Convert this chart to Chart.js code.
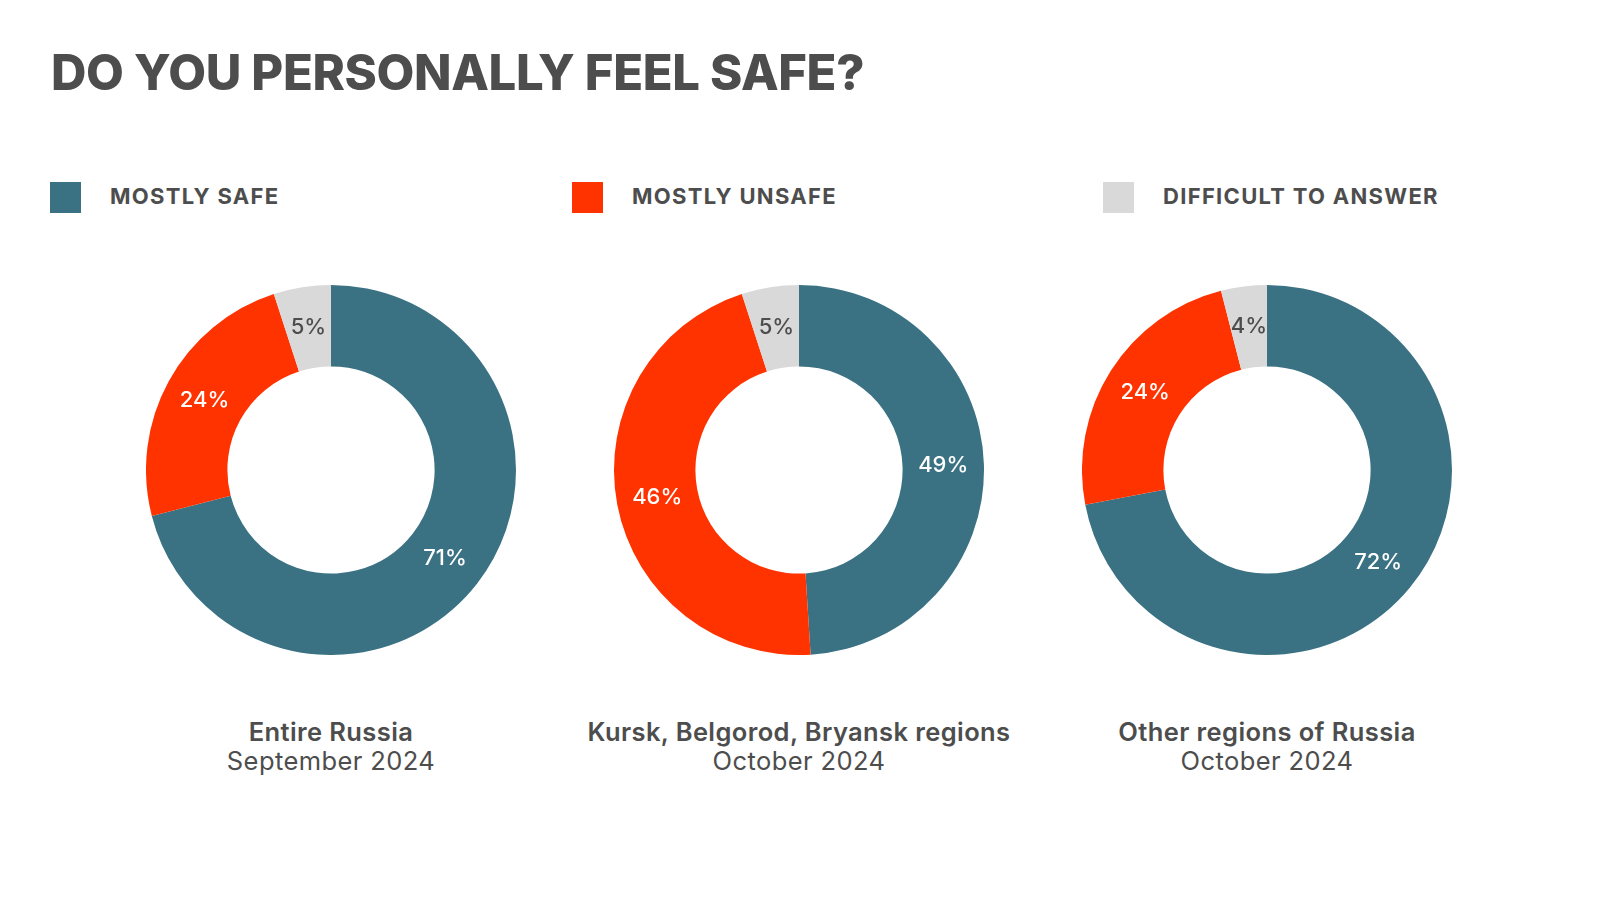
<!DOCTYPE html>
<html>
<head>
<meta charset="utf-8">
<script src="https://cdn.jsdelivr.net/npm/chart.js@4.4.1/dist/chart.umd.min.js"></script>
<style>
    html, body { margin: 0; padding: 0; background: #fff; }
    body { width: 1600px; height: 900px; position: relative; overflow: hidden; font-family: Inter, "Noto Sans", sans-serif; color: #4d4d4d; }
    h1 { position: absolute; left: 51px; top: 40px; margin: 0; font-size: 49px; font-weight: 800; letter-spacing: -0.35px; line-height: 66px; }
    .legend-item { position: absolute; top: 182px; height: 31px; display: flex; align-items: center; }
    .legend-item .box { width: 31px; height: 31px; margin-right: 29px; }
    .legend-item span { font-size: 22px; font-weight: 700; letter-spacing: 1.3px; position: relative; top: -2px; }
    .donut { position: absolute; top: 285px; width: 370px; height: 370px; }
    .caption { position: absolute; top: 717px; width: 600px; text-align: center; font-size: 25.5px; line-height: 29px; letter-spacing: 0.4px; }
    .caption b { font-weight: 600; }
    .caption div { font-weight: 400; }
</style>
</head>
<body>
<h1>DO YOU PERSONALLY FEEL SAFE?</h1>
<div id="legend"></div>
<div id="charts"></div>

<script>
/* ===============================
   DATA
================================ */
const categories = ["MOSTLY SAFE", "MOSTLY UNSAFE", "DIFFICULT TO ANSWER"];
const colors = ["#3a7284", "#ff3300", "#d9d9d9"];

const regions = ["Entire Russia", "Kursk, Belgorod, Bryansk regions", "Other regions of Russia"];
const periods = ["September 2024", "October 2024", "October 2024"];

const entireRussia = [71, 24, 5];
const borderRegions = [49, 46, 5];
const otherRegions = [72, 24, 4];
const seriesList = [entireRussia, borderRegions, otherRegions];

/* ===============================
   LEGEND
================================ */
const legendLeft = [50, 572, 1103];
const legendEl = document.getElementById("legend");
categories.forEach((name, i) => {
    const item = document.createElement("div");
    item.className = "legend-item";
    item.style.left = legendLeft[i] + "px";
    item.innerHTML = '<div class="box" style="background:' + colors[i] + '"></div><span>' + name + '</span>';
    legendEl.appendChild(item);
});

/* ===============================
   VALUE LABELS ON SEGMENTS
================================ */
const segmentLabels = {
    id: "segmentLabels",
    afterDatasetsDraw(chart) {
        const ctx = chart.ctx;
        const meta = chart.getDatasetMeta(0);
        const values = chart.data.datasets[0].data;
        ctx.save();
        ctx.font = "500 22px Inter, 'Noto Sans', sans-serif";
        ctx.textAlign = "center";
        ctx.textBaseline = "middle";
        meta.data.forEach((arc, i) => {
            const pos = arc.tooltipPosition();
            ctx.fillStyle = i === 2 ? "#4d4d4d" : "#ffffff";
            ctx.fillText(values[i] + "%", pos.x, pos.y);
        });
        ctx.restore();
    }
};

/* ===============================
   DONUTS
================================ */
const centersX = [331, 799, 1267];
const chartsEl = document.getElementById("charts");

seriesList.forEach((values, i) => {
    const wrap = document.createElement("div");
    wrap.className = "donut";
    wrap.style.left = (centersX[i] - 185) + "px";
    const canvas = document.createElement("canvas");
    wrap.appendChild(canvas);
    chartsEl.appendChild(wrap);

    new Chart(canvas, {
        type: "doughnut",
        data: {
            labels: categories,
            datasets: [{
                data: values,
                backgroundColor: colors,
                borderWidth: 0
            }]
        },
        options: {
            responsive: true,
            maintainAspectRatio: false,
            animation: false,
            cutout: "56%",
            layout: { padding: 0 },
            plugins: { legend: { display: false }, tooltip: { enabled: false } }
        },
        plugins: [segmentLabels]
    });

    const cap = document.createElement("div");
    cap.className = "caption";
    cap.style.left = (centersX[i] - 300) + "px";
    cap.innerHTML = "<b>" + regions[i] + "</b><div>" + periods[i] + "</div>";
    chartsEl.appendChild(cap);
});
</script>
</body>
</html>
